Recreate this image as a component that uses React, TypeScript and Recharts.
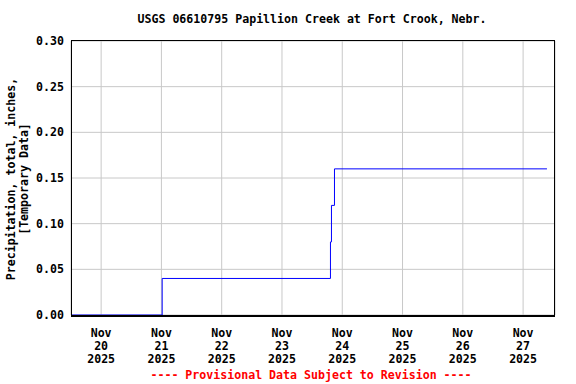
import React from 'react';
import { LineChart, Line, XAxis, YAxis, CartesianGrid } from 'recharts';

// hours since Nov 20 2025 00:00
const hours = [-12, 24.3, 91.3, 91.7, 92.9, 177.5];
const precip = [0, 0.04, 0.08, 0.12, 0.16, 0.16];
const dayTicks = [0, 24, 48, 72, 96, 120, 144, 168];
const dayLabels = ['20', '21', '22', '23', '24', '25', '26', '27'];
const yTicks = [0, 0.05, 0.1, 0.15, 0.2, 0.25, 0.3];

const data = hours.map((h, i) => ({ h, v: precip[i] }));

const FONT = '"DejaVu Sans Mono", monospace';
const X_MIN = -12;
const X_MAX = 180.7;

function DayTick(props: any) {
  const { x, y, payload } = props;
  const idx = dayTicks.indexOf(payload.value);
  return (
    <text x={x} y={y} textAnchor="middle" fontFamily={FONT} fontWeight="bold" fontSize={11.6} fill="#000">
      <tspan x={x} dy={14}>Nov</tspan>
      <tspan x={x} dy={13}>{dayLabels[idx]}</tspan>
      <tspan x={x} dy={13}>2025</tspan>
    </text>
  );
}

export default function App() {
  return (
    <div style={{ position: 'absolute', left: 0, top: 0, width: 576, height: 384, background: '#fff' }}>
      <LineChart width={576} height={384} data={data} margin={{ top: 41, right: 21, left: 0, bottom: 0 }}>
        <CartesianGrid stroke="#c8c8c8" strokeWidth={1} />
        <XAxis
          dataKey="h"
          type="number"
          domain={[X_MIN, X_MAX]}
          ticks={dayTicks}
          tick={<DayTick />}
          tickLine={false}
          axisLine={false}
          height={69}
          allowDataOverflow
        />
        <YAxis
          type="number"
          domain={[0, 0.3]}
          ticks={yTicks}
          tickFormatter={(v: number) => v.toFixed(2)}
          tick={{ fontFamily: FONT, fontWeight: 'bold', fontSize: 11.6, fill: '#000' }}
          tickLine={false}
          axisLine={false}
          width={71}
          tickSize={6}
          tickMargin={1}
        />
        <Line
          type="stepAfter"
          dataKey="v"
          stroke="#0000ff"
          strokeWidth={1}
          dot={false}
          isAnimationActive={false}
        />
      </LineChart>
      {/* plot frame */}
      <div
        style={{
          position: 'absolute', left: 71, top: 40, width: 484, height: 277, boxSizing: 'border-box',
          borderLeft: '1px solid #000', borderTop: '1px solid #000', borderRight: '1px solid #000',
          borderBottom: '2px solid #000', pointerEvents: 'none',
        }}
      />
      <div
        style={{
          position: 'absolute', left: 0, top: 12, width: 624, textAlign: 'center',
          fontFamily: FONT, fontWeight: 'bold', fontSize: 11.6, color: '#000', lineHeight: '14px',
        }}
      >
        USGS 06610795 Papillion Creek at Fort Crook, Nebr.
      </div>
      <div style={{ position: 'absolute', left: 18, top: 180, width: 0, height: 0 }}>
        <div
          style={{
            position: 'absolute', left: -150, top: -14, width: 300, textAlign: 'center',
            transform: 'rotate(-90deg)', fontFamily: FONT, fontWeight: 'bold', fontSize: 11.6,
            lineHeight: '13px', color: '#000',
          }}
        >
          Precipitation, total, inches,<br />[Temporary Data]
        </div>
      </div>
      <div
        style={{
          position: 'absolute', left: 0, top: 368, width: 622, textAlign: 'center',
          fontFamily: FONT, fontWeight: 'bold', fontSize: 11.6, color: '#ff0000', lineHeight: '14px',
        }}
      >
        ---- Provisional Data Subject to Revision ----
      </div>
    </div>
  );
}
